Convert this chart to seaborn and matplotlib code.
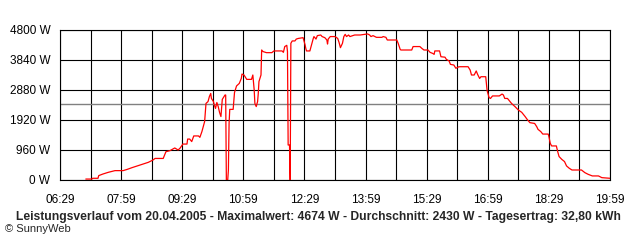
import matplotlib
matplotlib.use("Agg")
import matplotlib.pyplot as plt
import seaborn as sns
import pandas as pd

# ---- data ----
times = [
    "07:07", "07:16", "07:17", "07:25", "07:26", "07:32", "07:40", "07:50", "08:02", "08:08",
    "08:15", "08:24", "08:31", "08:39", "08:46", "08:49", "09:01", "09:05", "09:11", "09:18",
    "09:23", "09:26", "09:30", "09:36", "09:37", "09:40", "09:43", "09:46", "09:53", "09:55",
    "09:58", "10:00", "10:02", "10:04", "10:07", "10:09", "10:11", "10:12", "10:15", "10:16",
    "10:18", "10:20", "10:22", "10:24", "10:26", "10:28", "10:32", "10:33", "10:34", "10:36",
    "10:37", "10:38", "10:39", "10:44", "10:46", "10:49", "10:53", "10:56", "10:57", "11:00",
    "11:04", "11:11", "11:13", "11:15", "11:16", "11:18", "11:20", "11:21", "11:22", "11:25",
    "11:26", "11:28", "11:33", "11:41", "11:44", "11:56", "11:58", "12:00", "12:03", "12:04",
    "12:05", "12:07", "12:08", "12:09", "12:11", "12:15", "12:17", "12:20", "12:27", "12:30",
    "12:31", "12:32", "12:37", "12:40", "12:42", "12:43", "12:46", "12:48", "12:53", "12:55",
    "12:59", "13:02", "13:03", "13:04", "13:07", "13:14", "13:18", "13:20", "13:22", "13:25",
    "13:27", "13:29", "13:31", "13:34", "13:36", "13:43", "13:51", "13:58", "14:02", "14:05",
    "14:07", "14:10", "14:15", "14:23", "14:25", "14:29", "14:31", "14:45", "14:47", "14:50",
    "14:51", "15:07", "15:09", "15:19", "15:22", "15:25", "15:31", "15:34", "15:38", "15:40",
    "15:41", "15:48", "15:50", "15:56", "15:58", "16:02", "16:04", "16:09", "16:12", "16:16",
    "16:18", "16:30", "16:33", "16:35", "16:39", "16:42", "16:44", "16:47", "16:49", "16:56",
    "16:58", "17:01", "17:03", "17:06", "17:16", "17:20", "17:22", "17:24", "17:28", "17:31",
    "17:34", "17:39", "17:44", "17:49", "17:54", "17:57", "18:01", "18:08", "18:11", "18:13",
    "18:17", "18:20", "18:28", "18:29", "18:31", "18:33", "18:40", "18:42", "18:44", "18:48",
    "18:52", "18:55", "18:59", "19:03", "19:17", "19:22", "19:27", "19:33", "19:42", "19:47",
    "19:59",
]
watts = [
    30, 30, 55, 55, 140, 190, 245, 300, 300, 340,
    395, 460, 510, 565, 640, 690, 690, 905, 940, 1025,
    960, 1025, 1150, 1150, 1310, 1310, 1230, 1410, 1410, 1365,
    1550, 1710, 1870, 2450, 2510, 2670, 2770, 2610, 2510, 2420,
    2290, 2480, 2350, 2160, 2030, 2580, 2720, 2720, 0, 0,
    320, 1810, 2260, 2260, 2800, 3010, 3090, 3250, 3390, 3360,
    3220, 3220, 3360, 2880, 2450, 2350, 2510, 2770, 3150, 3360,
    4160, 4110, 4075, 4075, 4130, 4130, 4085, 4270, 4310, 4110,
    1120, 1120, 0, 4375, 4450, 4450, 4510, 4530, 4555, 4320,
    4210, 4130, 4130, 4375, 4530, 4590, 4510, 4620, 4640, 4590,
    4555, 4480, 4350, 4510, 4590, 4590, 4530, 4400, 4235, 4375,
    4590, 4660, 4590, 4640, 4590, 4640, 4640, 4660, 4674, 4640,
    4590, 4620, 4565, 4565, 4590, 4565, 4480, 4480, 4375, 4180,
    4160, 4160, 4270, 4270, 4210, 4160, 4160, 4085, 4050, 4020,
    4130, 4130, 3945, 3930, 3860, 3810, 3700, 3680, 3575, 3620,
    3625, 3625, 3520, 3360, 3360, 3490, 3380, 3250, 3305, 3305,
    2860, 2635, 2610, 2690, 2690, 2750, 2720, 2610, 2610, 2530,
    2450, 2350, 2240, 2165, 2030, 1940, 1835, 1810, 1710, 1620,
    1550, 1470, 1470, 1390, 1175, 1090, 1090, 905, 750, 660,
    590, 450, 375, 320, 320, 235, 180, 130, 130, 75,
    55,
]
average_w = 2430
y_ticks = [0, 960, 1920, 2880, 3840, 4800]
x_tick_labels = ["06:29", "07:59", "09:29", "10:59", "12:29", "13:59", "15:29", "16:59", "18:29", "19:59"]
title = ("Leistungsverlauf vom 20.04.2005 - Maximalwert: 4674 W - "
         "Durchschnitt: 2430 W - Tagesertrag: 32,80 kWh")
footer = "© SunnyWeb"


def to_min(s):
    h, m = s.split(":")
    return int(h) * 60 + int(m)


df = pd.DataFrame({"t": [to_min(s) for s in times], "w": watts})

sns.set_style("white")
plt.rcParams["font.family"] = ["Liberation Sans", "DejaVu Sans"]

fig = plt.figure(figsize=(6.4, 2.4), dpi=100)
ax = fig.add_axes([60 / 640, 60 / 240, 550 / 640, 150 / 240])

x0 = to_min(x_tick_labels[0])
x1 = to_min(x_tick_labels[-1])
ax.set_xlim(x0, x1)
ax.set_ylim(0, 4800)

all_ticks = list(range(x0, x1 + 1, 45))
ax.set_xticks(all_ticks)
lab_set = set(to_min(s) for s in x_tick_labels)
ax.set_xticklabels([f"{t // 60:02d}:{t % 60:02d}" if t in lab_set else "" for t in all_ticks])
ax.set_yticks(y_ticks)
ax.set_yticklabels([f"{v} W" for v in y_ticks])

ax.grid(True, color="black", linewidth=0.8)
ax.set_axisbelow(True)
for sp in ax.spines.values():
    sp.set_color("black")
    sp.set_linewidth(0.8)
ax.tick_params(axis="both", direction="out", length=4, width=0.8, color="black",
               labelsize=8.5, pad=3, labelcolor="black")
ax.tick_params(axis="x", pad=6)

ax.axhline(average_w, color="#808080", linewidth=1.0, zorder=2)
sns.lineplot(data=df, x="t", y="w", estimator=None, sort=False, color="#ff0000",
             linewidth=0.9, ax=ax, zorder=3)
ax.set_xlabel("")
ax.set_ylabel("")

fig.text(0.497, 1 - 217 / 240, title, ha="center", va="center", fontsize=8.75, fontweight="bold")
fig.text(5 / 640, 1 - 229 / 240, footer, ha="left", va="center", fontsize=8)

fig.savefig("out.png", dpi=100, facecolor="white")
